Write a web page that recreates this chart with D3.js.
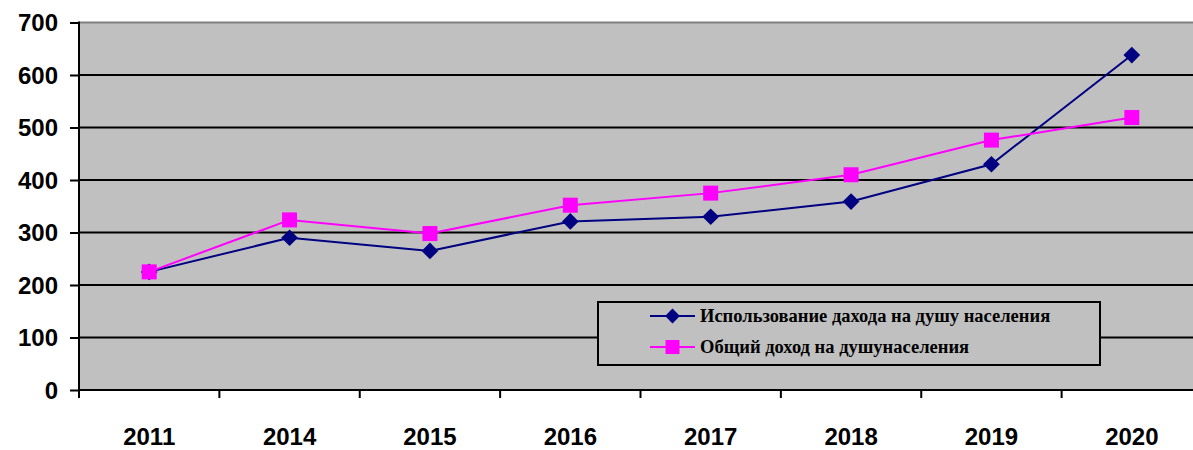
<html lang="ru">
<head>
  <meta charset="UTF-8"/>
  <title>Доход на душу населения</title>
  <script src="https://d3js.org/d3.v7.min.js"></script>
  <style>
    body { margin: 0; background: #fff; }
    svg { display: block; }
    .tick text { font-family: "Liberation Sans", Arial, sans-serif; font-weight: bold; font-size: 24px; fill: #000; }
    .legend text { font-family: "Liberation Serif", "Times New Roman", serif; font-weight: bold; font-size: 18.5px; fill: #000; }
  </style>
</head>
<body>
<svg width="1193" height="450"></svg>
<script>
  const years = ['2011', '2014', '2015', '2016', '2017', '2018', '2019', '2020'];
  const usage = [225, 290, 265, 321, 330, 359, 430, 638];
  const income = [225, 324, 298, 352, 375, 410, 476, 519];
  const yTicks = [0, 100, 200, 300, 400, 500, 600, 700];
  const seriesNames = ['Использование дахода на душу населения', 'Общий доход на душунаселения'];

  const svg = d3.select('svg');
  const plotL = 79, plotT = 22.5, plotR = 1202, plotB = 390;

  const x = d3.scaleBand().domain(years).range([plotL, plotR]);
  const y = d3.scaleLinear().domain([0, 700]).range([plotB, plotT]);

  // plot background
  svg.append('rect')
    .attr('x', plotL).attr('y', plotT)
    .attr('width', plotR - plotL).attr('height', plotB - plotT)
    .attr('fill', '#c0c0c0');

  svg.append('line')
    .attr('x1', plotL).attr('x2', plotR)
    .attr('y1', plotT).attr('y2', plotT)
    .attr('stroke', '#808080').attr('stroke-width', 2);

  // horizontal grid
  svg.append('g')
    .selectAll('line')
    .data(yTicks.filter(d => d > 0 && d < 700))
    .join('line')
    .attr('x1', plotL).attr('x2', plotR)
    .attr('y1', d => y(d)).attr('y2', d => y(d))
    .attr('stroke', '#000').attr('stroke-width', 2);

  // y axis
  const yAxis = svg.append('g')
    .attr('transform', `translate(${plotL},0)`)
    .call(d3.axisLeft(y).tickValues(yTicks).tickSize(9).tickPadding(12));
  yAxis.selectAll('line, path').attr('stroke', '#000').attr('stroke-width', 2);
  yAxis.select('.domain').attr('d', `M0,${plotT - 1}V${plotB}`);
  yAxis.selectAll('.tick text').attr('dy', '0.35em');

  // x axis
  const xAxis = svg.append('g')
    .attr('transform', `translate(0,${plotB})`)
    .call(d3.axisBottom(x).tickSize(0).tickPadding(38));
  xAxis.select('.domain').attr('stroke', '#000').attr('stroke-width', 2)
    .attr('d', `M${plotL},0H${plotR}`);
  xAxis.append('g')
    .selectAll('line')
    .data(years.map(d => x(d)))
    .join('line')
    .attr('x1', d => d).attr('x2', d => d)
    .attr('y1', 0).attr('y2', 8)
    .attr('stroke', '#000').attr('stroke-width', 2);

  const cx = d => x(d) + x.bandwidth() / 2;
  const line = d3.line().x(d => cx(d[0])).y(d => y(d[1]));

  const usagePts = years.map((d, i) => [d, usage[i]]);
  const incomePts = years.map((d, i) => [d, income[i]]);

  // usage series (navy, diamonds)
  svg.append('path').datum(usagePts)
    .attr('d', line).attr('fill', 'none')
    .attr('stroke', '#000080').attr('stroke-width', 2);
  svg.append('g').selectAll('path')
    .data(usagePts)
    .join('path')
    .attr('d', d3.symbol(d3.symbolSquare, 140))
    .attr('transform', d => `translate(${cx(d[0])},${y(d[1])}) rotate(45)`)
    .attr('fill', '#000080');

  // income series (magenta, squares)
  svg.append('path').datum(incomePts)
    .attr('d', line).attr('fill', 'none')
    .attr('stroke', '#ff00ff').attr('stroke-width', 2);
  svg.append('g').selectAll('rect')
    .data(incomePts)
    .join('rect')
    .attr('x', d => cx(d[0]) - 7.5).attr('y', d => y(d[1]) - 7.5)
    .attr('width', 15).attr('height', 15)
    .attr('fill', '#ff00ff');

  // legend
  const legend = svg.append('g').attr('class', 'legend');
  legend.append('rect')
    .attr('x', 598).attr('y', 302)
    .attr('width', 502).attr('height', 63)
    .attr('fill', '#c0c0c0').attr('stroke', '#000').attr('stroke-width', 2);

  const items = legend.selectAll('g.item')
    .data(seriesNames)
    .join('g')
    .attr('class', 'item')
    .attr('transform', (d, i) => `translate(650,${316 + i * 31})`);
  items.append('line')
    .attr('x1', 0).attr('x2', 45)
    .attr('stroke', (d, i) => i === 0 ? '#000080' : '#ff00ff')
    .attr('stroke-width', 2);
  items.filter((d, i) => i === 0).append('path')
    .attr('d', d3.symbol(d3.symbolSquare, 110))
    .attr('transform', 'translate(22.5,0) rotate(45)')
    .attr('fill', '#000080');
  items.filter((d, i) => i === 1).append('rect')
    .attr('x', 15.5).attr('y', -7).attr('width', 14).attr('height', 14)
    .attr('fill', '#ff00ff');
  items.append('text')
    .attr('x', 50).attr('dy', '0.35em')
    .text(d => d);
</script>
</body>
</html>
